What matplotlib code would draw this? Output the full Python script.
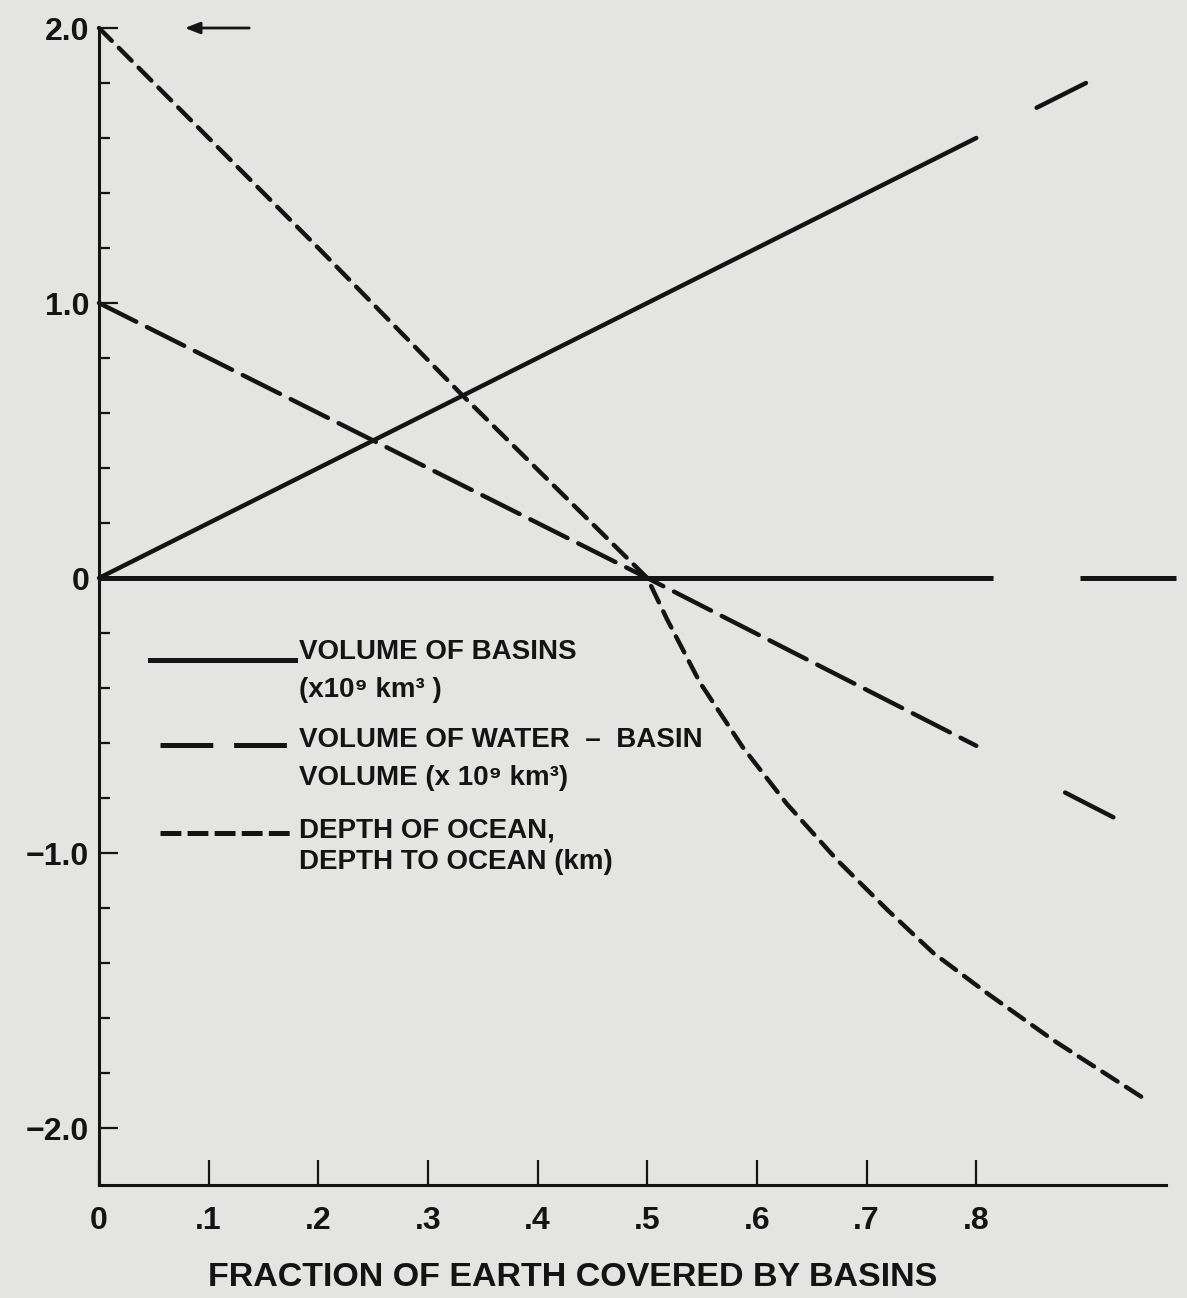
import matplotlib
matplotlib.use("Agg")
import matplotlib.pyplot as plt
from matplotlib.lines import Line2D

# ---------------- data ----------------
frac_basins = [0.0, 0.8]
vol_basins = [0.0, 1.6]
frac_basins_ext = [0.855, 0.90]
vol_basins_ext = [1.71, 1.80]

frac_excess = [0.0, 0.5, 0.8]
vol_excess = [1.0, 0.0, -0.61]
frac_excess_ext = [0.881, 0.925]
vol_excess_ext = [-0.78, -0.87]

frac_depth = [0.0, 0.1, 0.2, 0.33, 0.5, 0.518, 0.548, 0.587, 0.627, 0.673,
              0.719, 0.761, 0.81, 0.87, 0.952]
depth_ocean = [2.0, 1.6, 1.2, 0.67, 0.0, -0.15, -0.38, -0.615, -0.82, -1.025,
               -1.207, -1.364, -1.51, -1.68, -1.89]

frac_zero_a = [0.0, 0.815]
frac_zero_b = [0.895, 0.982]
zero_vals = [0.0, 0.0]

x_tick_values = [0.0, 0.1, 0.2, 0.3, 0.4, 0.5, 0.6, 0.7, 0.8]
x_tick_labels = ["0", ".1", ".2", ".3", ".4", ".5", ".6", ".7", ".8"]
y_major = [-2.0, -1.0, 0.0, 1.0, 2.0]
y_major_labels = ["\u22122.0", "\u22121.0", "0", "1.0", "2.0"]
y_minor = [-1.8, -1.6, -1.4, -1.2, -0.8, -0.6, -0.4, -0.2,
           0.2, 0.4, 0.6, 0.8, 1.2, 1.4, 1.6, 1.8]

legend_lines = ["VOLUME OF BASINS", "(x10\u2079 km\u00b3 )",
                "VOLUME OF WATER  \u2013  BASIN", "VOLUME (x 10\u2079 km\u00b3)",
                "DEPTH OF OCEAN,", "DEPTH TO OCEAN (km)"]
x_label = "FRACTION OF EARTH COVERED BY BASINS"

# ---------------- style ----------------
W, H = 1187, 1298
BG = "#e4e4e2"
INK = "#141414"
plt.rcParams["lines.scale_dashes"] = False
FONT = ["Liberation Sans", "DejaVu Sans"]
plt.rcParams["font.family"] = FONT

fig = plt.figure(figsize=(W / 100, H / 100), dpi=100, facecolor=BG)

def fx(px):
    return px / W

def fy(py):
    return 1 - py / H

ax_left, ax_right, ax_top, ax_bottom = 99, 1166, 28, 1185
ax = fig.add_axes([fx(ax_left), fy(ax_bottom), fx(ax_right) - fx(ax_left), (ax_bottom - ax_top) / H])
ax.set_facecolor(BG)
ax.set_xlim(0, 0.973)
ax.set_ylim(-2.207, 2.0)

for s in ["top", "right"]:
    ax.spines[s].set_visible(False)
for s in ["left", "bottom"]:
    ax.spines[s].set_linewidth(2.2)
    ax.spines[s].set_color(INK)

LW = 3.2
LONG = (0, (30, 8.6))
SHORT = (0, (13, 7.2))

ax.plot(frac_basins, vol_basins, color=INK, lw=LW, solid_capstyle="round", clip_on=False)
ax.plot(frac_basins_ext, vol_basins_ext, color=INK, lw=LW, solid_capstyle="round", clip_on=False)
ax.plot(frac_excess, vol_excess, color=INK, lw=LW, linestyle=LONG, dash_capstyle="round", clip_on=False)
ax.plot(frac_excess_ext, vol_excess_ext, color=INK, lw=LW, solid_capstyle="round", clip_on=False)
ax.plot(frac_depth, depth_ocean, color=INK, lw=LW, linestyle=SHORT, dash_capstyle="round",
        dash_joinstyle="round", clip_on=False)
ax.plot(frac_zero_a, zero_vals, color=INK, lw=3.6, solid_capstyle="butt", clip_on=False)
ax.plot(frac_zero_b, zero_vals, color=INK, lw=3.6, solid_capstyle="butt", clip_on=False)

# ticks
ax.set_xticks(x_tick_values)
ax.set_xticklabels(x_tick_labels)
ax.set_yticks(y_major)
ax.set_yticklabels(y_major_labels)
ax.set_yticks(y_minor, minor=True)
ax.tick_params(axis="x", direction="in", length=18, width=1.6, color=INK, pad=15,
               labelsize=23, labelcolor=INK)
ax.tick_params(axis="y", which="major", direction="in", length=14, width=1.6, color=INK,
               pad=7, labelsize=23, labelcolor=INK)
ax.tick_params(axis="y", which="minor", direction="in", length=8, width=1.6, color=INK)
for lab in ax.get_xticklabels() + ax.get_yticklabels():
    lab.set_fontweight("bold")

fig.text(fx(573), fy(1278), x_label, ha="center", va="center", fontsize=24.5,
         fontweight="bold", color=INK)

# arrow at top
ax.annotate("", xy=(fx(182), fy(28)), xycoords="figure fraction",
            xytext=(fx(252), fy(28)), textcoords="figure fraction",
            arrowprops=dict(arrowstyle="-|>,head_length=0.9,head_width=0.35",
                            color=INK, lw=2.0))

# hand-made legend
fig.add_artist(Line2D([fx(150), fx(295)], [fy(660), fy(660)], color=INK, lw=3.6,
                      transform=fig.transFigure))
fig.add_artist(Line2D([fx(160), fx(292)], [fy(745), fy(745)], color=INK, lw=3.6,
                      linestyle=(0, (38, 15)), transform=fig.transFigure))
fig.add_artist(Line2D([fx(160), fx(295)], [fy(833), fy(833)], color=INK, lw=3.6,
                      linestyle=(0, (15, 4.5)), transform=fig.transFigure))

legend_y = [652, 690, 740, 778, 830, 862]
for txt, py in zip(legend_lines, legend_y):
    fig.text(fx(299), fy(py), txt, ha="left", va="center", fontsize=20,
             fontweight="bold", color=INK)

fig.savefig("out.png", dpi=100, facecolor=BG)
